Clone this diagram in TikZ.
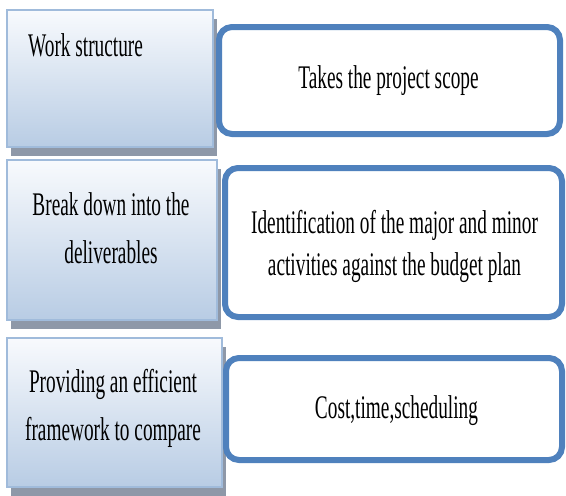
\documentclass[tikz,border=0pt]{standalone}
\usepackage{fontspec}
\setmainfont[FakeStretch=0.585]{Liberation Serif}
\usetikzlibrary{shadows}
\definecolor{lbtop}{RGB}{248,250,253}
\definecolor{lbbot}{RGB}{184,204,228}
\definecolor{lbborder}{RGB}{160,187,219}
\definecolor{shadowgray}{RGB}{142,152,168}
\definecolor{rblue}{RGB}{79,129,189}
\tikzset{
  leftbox/.style={draw=lbborder, line width=1.5pt, top color=lbtop, bottom color=lbbot,
    general shadow={fill=shadowgray, shadow xshift=4pt, shadow yshift=-9pt}, inner sep=0pt},
  rightbox/.style={draw=rblue, line width=6pt, fill=white, rounded corners=13pt, inner sep=0pt},
  lefttext/.style={font=\fontsize{33}{48}\selectfont, align=center, inner sep=0pt},
  righttext/.style={font=\fontsize{33}{42}\selectfont, align=center, inner sep=0pt}
}
\begin{document}
\begin{tikzpicture}[x=1pt,y=-1pt]
\useasboundingbox (0,0) rectangle (566,496);
% left boxes
\node[leftbox, minimum width=206pt, minimum height=137pt] (l1) at (110,78.5) {};
\node[leftbox, minimum width=210pt, minimum height=160pt] (l2) at (112,240) {};
\node[leftbox, minimum width=215pt, minimum height=149pt] (l3) at (114.5,412.5) {};
% right boxes
\node[rightbox, minimum width=341pt, minimum height=107pt] (r1) at (389.5,80.5) {};
\node[rightbox, minimum width=337pt, minimum height=149pt] (r2) at (393.5,242.5) {};
\node[rightbox, minimum width=336pt, minimum height=102pt] (r3) at (394,409) {};
% texts (base anchor = baseline of the last line)
\node[lefttext, anchor=base west] (t1) at (28,56) {Work structure};
\node[lefttext, anchor=base] (t2) at (111,263) {Break down into the\\deliverables};
\node[lefttext, anchor=base] (t3) at (113,440) {Providing an efficient\\framework to compare};
\node[righttext, anchor=base] (t4) at (388.5,88) {Takes the project scope};
\node[righttext, anchor=base] (t5) at (394.5,275) {Identification of the major and minor\\activities against the budget plan};
\node[righttext, anchor=base] (t6) at (396.5,418) {Cost,time,scheduling};
\end{tikzpicture}
\end{document}
